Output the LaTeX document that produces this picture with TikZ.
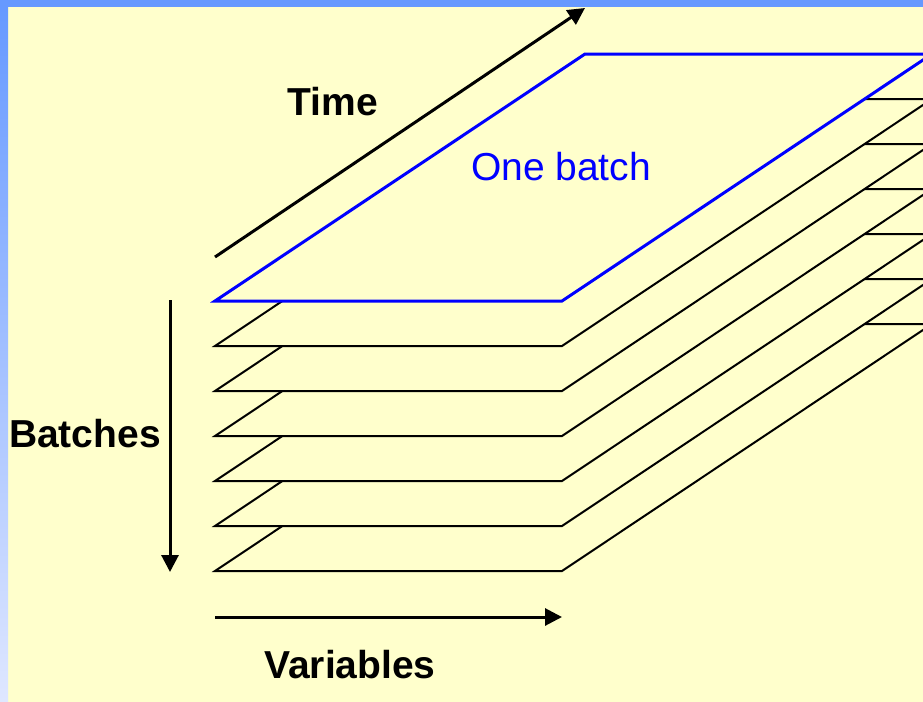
\documentclass[tikz,border=0pt]{standalone}
\usepackage{fontspec}
\setmainfont{Liberation Sans}
\usepackage{xcolor}
\usepackage{tikz}
\usetikzlibrary{arrows.meta}

\definecolor{bgyellow}{HTML}{FFFFCC}
\definecolor{frameblue}{HTML}{6699FF}
\definecolor{framelight}{HTML}{DFE7FF}
\definecolor{batchblue}{HTML}{0000FF}

\begin{document}
\begin{tikzpicture}[x=0.5pt, y=-0.5pt, >={Triangle[length=8.5pt,width=8.5pt]},
    plane/.style={draw=black, line width=1pt, fill=bgyellow},
    axis/.style={->, line width=1.5pt},
    lbl/.style={font=\fontsize{19.5}{23}\selectfont\bfseries, anchor=base, inner sep=0pt}]
    % --- NỀN VÀ KHUNG ---
    \useasboundingbox (0,0) rectangle (923,702);
    \fill[bgyellow] (0,0) rectangle (923,702);
    \fill[frameblue] (0,0) rectangle (923,7);
    \shade[top color=frameblue, bottom color=framelight] (0,7) rectangle (8,702);

    % Kích thước các tấm phẳng
    \def\xl{215}
    \def\ytop{301}
    \def\w{347}
    \def\dx{370}
    \def\dy{247}
    \def\gap{45}

    \begin{scope}
    \clip (8,7) rectangle (923,702);
    % Các tấm phía dưới, vẽ từ dưới lên
    \foreach \i in {6,...,1}{
        \filldraw[plane] (\xl,\ytop+\gap*\i) -- ++(\w,0) -- ++(\dx,-\dy) -- ++(-\w,0) -- cycle;
    }
    % Tấm trên cùng: một mẻ
    \filldraw[plane, draw=batchblue, line width=1.5pt] (\xl,\ytop) -- ++(\w,0) -- ++(\dx,-\dy) -- ++(-\w,0) -- cycle;
    \end{scope}

    % --- CÁC TRỤC ---
    \coordinate (time0) at (215,257);
    \coordinate (time1) at (585,8);
    \coordinate (batch0) at (170,300);
    \coordinate (batch1) at (170,572);
    \coordinate (var0) at (215,617);
    \coordinate (var1) at (562,617);
    \draw[axis] (time0) -- (time1);
    \draw[axis] (batch0) -- (batch1);
    \draw[axis] (var0) -- (var1);

    % Nhãn
    \node[lbl] (time) at (333,115) {Time};
    \node[lbl] (batches) at (85,447) {Batches};
    \node[lbl] (variables) at (350,678) {Variables};
    \node[lbl, font=\fontsize{19.5}{23}\selectfont, text=batchblue] (onebatch) at (561,180) {One batch};
\end{tikzpicture}
\end{document}
